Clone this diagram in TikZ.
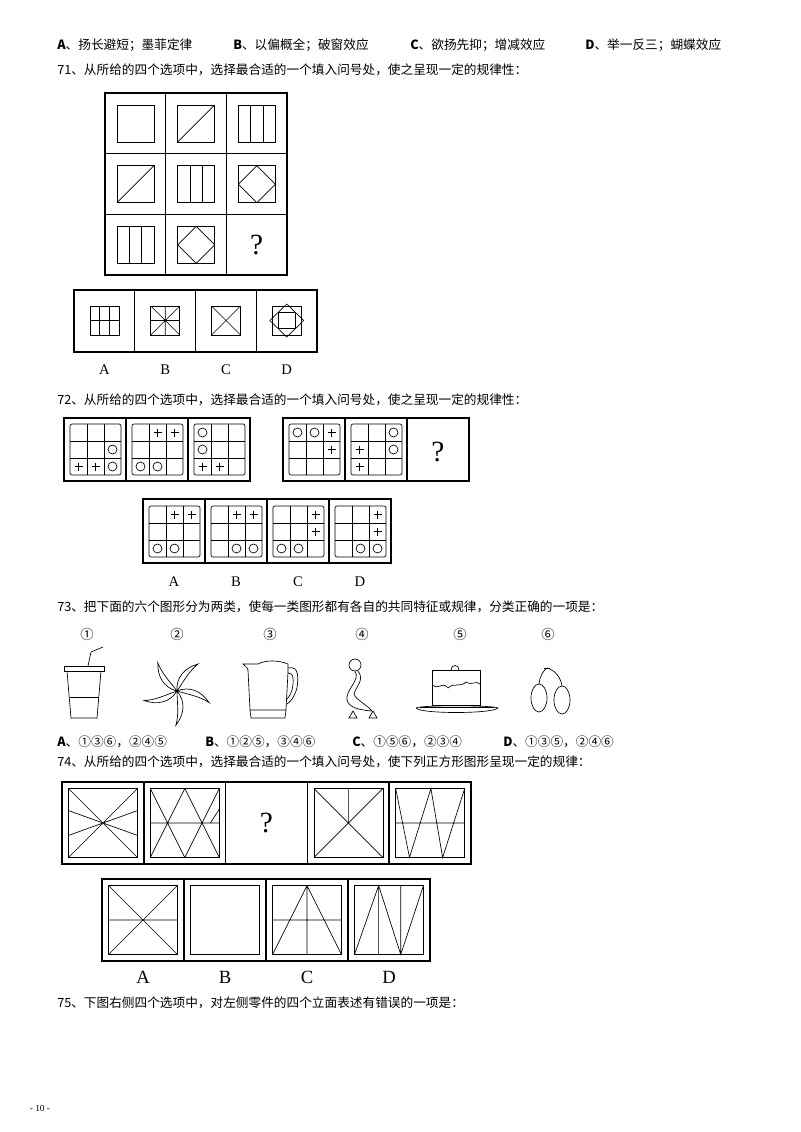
\documentclass[tikz,border=0pt]{standalone}
\usepackage{fontspec}
\setmainfont{Liberation Serif}
\newfontfamily\cjk{Noto Sans CJK SC}
\begin{document}
\begin{tikzpicture}[x=0.75pt,y=-0.75pt,
  fr/.style={draw,line width=1.1pt},
  th/.style={draw,line width=0.5pt},
  txt/.style={anchor=west,inner sep=0,font=\cjk\fontsize{9.5}{11}\selectfont},
  lab/.style={inner sep=0,font=\fontsize{11}{12}\selectfont},
  qm/.style={inner sep=0,font=\fontsize{22}{24}\selectfont}]
\useasboundingbox[fill=white] (0,0) rectangle (800,1132);
% ---------- text lines
\node[txt] (t0a) at (57,45) {\textbf{A}、扬长避短；墨菲定律};
\node[txt] (t0b) at (233,45) {\textbf{B}、以偏概全；破窗效应};
\node[txt] (t0c) at (410,45) {\textbf{C}、欲扬先抑；增减效应};
\node[txt] (t0d) at (585,45) {\textbf{D}、举一反三；蝴蝶效应};
\node[txt] (t71) at (57,70) {71、从所给的四个选项中，选择最合适的一个填入问号处，使之呈现一定的规律性：};
\node[txt] (t72) at (57,400) {72、从所给的四个选项中，选择最合适的一个填入问号处，使之呈现一定的规律性：};
\node[txt] (t73) at (57,607) {73、把下面的六个图形分为两类，使每一类图形都有各自的共同特征或规律，分类正确的一项是：};
\node[txt] (a73a) at (57,742) {\textbf{A}、①③⑥，②④⑤};
\node[txt] (a73b) at (205,742) {\textbf{B}、①②⑤，③④⑥};
\node[txt] (a73c) at (352,742) {\textbf{C}、①⑤⑥，②③④};
\node[txt] (a73d) at (503,742) {\textbf{D}、①③⑤，②④⑥};
\node[txt] (t74) at (57,762) {74、从所给的四个选项中，选择最合适的一个填入问号处，使下列正方形图形呈现一定的规律：};
\node[txt] (t75) at (57,1003) {75、下图右侧四个选项中，对左侧零件的四个立面表述有错误的一项是：};
\node[inner sep=0,font=\fontsize{7}{8}\selectfont] (pg) at (40,1108) {- 10 -};
% ---------- Q71
\foreach \r in {0,1,2}{\foreach \c in {0,1,2}{
  \draw[fr] ({105+60.7*\c},{93+60.7*\r}) rectangle +(60.7,60.7);}}
\newcommand\isq[2]{\draw[th] ({105+60.7*#2+12},{93+60.7*#1+12}) rectangle +(37,37);}
\newcommand\idiag[2]{\isq{#1}{#2}\draw[th] ({105+60.7*#2+12},{93+60.7*#1+49}) -- +(37,-37);}
\newcommand\ivert[2]{\isq{#1}{#2}\foreach \k in {1,2}{\draw[th] ({105+60.7*#2+12+37*\k/3},{93+60.7*#1+12}) -- +(0,37);}}
\newcommand\idiam[2]{\isq{#1}{#2}\draw[th] ({105+60.7*#2+30.5},{93+60.7*#1+12}) -- +(18.5,18.5) -- +(0,37) -- +(-18.5,18.5) -- cycle;}
\isq00 \idiag01 \ivert02
\idiag10 \ivert11 \idiam12
\ivert20 \idiam21
\node[qm] (q71) at ({105+60.7*2.5},{93+60.7*2.5}) {?};
\foreach \c in {0,1,2,3}{\draw[fr] ({74+60.75*\c},290) rectangle +(60.75,62);
  \draw[th] ({74+60.75*\c+16},306) rectangle +(29,29);}
\foreach \k in {1,2}{\draw[th] ({74+16+29*\k/3},306) -- +(0,29);}
\draw[th] (90,320.5) -- +(29,0);
\draw[th] (150.75,306) -- +(29,29) (150.75,335) -- +(29,-29) (165.25,306) -- +(0,29) (150.75,320.5) -- +(29,0);
\draw[th] (211.5,306) -- +(29,29) (211.5,335) -- +(29,-29);
\draw[th] (286.75,304) -- +(17,16.5) -- +(0,33) -- +(-17,16.5) -- cycle;
\draw[th] (278.25,312.25) rectangle +(17,16.5);
\foreach \l/\c in {A/0,B/1,C/2,D/3}{\node[lab] (l71\l) at ({74+60.75*\c+30.4},370) {\l};}
% ---------- Q72
\newcommand\qg[4]{% x y plus circle
  \draw[th,rounded corners=1.5pt] (#1,#2) rectangle +(51,51);
  \foreach \k in {1,2}{\draw[th] ({#1+17*\k},#2) -- +(0,51); \draw[th] (#1,{#2+17*\k}) -- +(51,0);}
  \foreach \r/\c in {#3}{\draw[th] ({#1+17*\c+8.5-4},{#2+17*\r+8.5}) -- +(8,0) ({#1+17*\c+8.5},{#2+17*\r+8.5-4}) -- +(0,8);}
  \foreach \r/\c in {#4}{\draw[th] ({#1+17*\c+8.5},{#2+17*\r+8.5}) circle (4.5);}}
\foreach \c in {0,1,2}{\draw[fr] ({64+62*\c},418) rectangle +(62,63);}
\foreach \c in {0,1,2}{\draw[fr] ({283+62*\c},418) rectangle +(62,63);}
\qg{70}{424}{2/0,2/1}{1/2,2/2}
\qg{132}{424}{0/1,0/2}{2/0,2/1}
\qg{194}{424}{2/0,2/1}{0/0,1/0}
\qg{289}{424}{0/2,1/2}{0/0,0/1}
\qg{351}{424}{1/0,2/0}{0/2,1/2}
\node[qm] (q72) at (438,452) {?};
\foreach \c in {0,1,2,3}{\draw[fr] ({143+62*\c},499) rectangle +(62,64);}
\qg{149}{506}{0/1,0/2}{2/0,2/1}
\qg{211}{506}{0/1,0/2}{2/1,2/2}
\qg{273}{506}{0/2,1/2}{2/0,2/1}
\qg{335}{506}{0/2,1/2}{2/1,2/2}
\foreach \l/\c in {A/0,B/1,C/2,D/3}{\node[lab] (l72\l) at ({143+62*\c+31},582) {\l};}
% ---------- Q73
\foreach \n/\x in {①/87,②/177,③/270,④/362,⑤/460,⑥/548}{\node[inner sep=0,font=\cjk\fontsize{10}{11}\selectfont] at (\x,634) {\n};}
% cup
\draw[th] (64,666) rectangle (104,671);
\draw[th] (67,671) -- (71,718) -- (97,718) -- (101,671);
\draw[th] (69.5,697) -- (98.5,697);
\draw[th] (88,666) -- (91,652) -- (103,647);
% pinwheel
\foreach \a in {0,72,144,216,288}{
 \draw[th,rotate around={\a:(177,691)}] (177,691) .. controls (176,678) and (184,668) .. (198,664) .. controls (189,671) and (184,681) .. cycle;}
% pitcher
\draw[th] (248,670) -- (250,710) -- (286,710) -- (288,672);
\draw[th] (250,710) -- (251,718) -- (285,718) -- (286,710);
\draw[th] (248,670) .. controls (247,666) and (244,666) .. (243,664) -- (258,664) .. controls (265,660) and (279,660) .. (288,664) -- (288,672);
\draw[th] (288,668) .. controls (300,665) and (298,680) .. (297,688) .. controls (294,698) and (290,702) .. (287,704);
\draw[th] (288,673) .. controls (294,672) and (294,682) .. (292,690) .. controls (290,696) and (288,698) .. (287,699);
% figure 4
\draw[th] (355,665) circle (6);
\draw[th] (355,671) .. controls (361,680) and (345,690) .. (347,700) .. controls (349,708) and (360,710) .. (372,711) .. controls (366,704) and (356,700) .. (354,694) .. controls (356,686) and (365,680) .. (358,671);
\draw[th] (349,718) -- (353,711) -- (357,718) -- cycle;
\draw[th] (369,718) -- (373,711) -- (377,718) -- cycle;
% cake
\draw[th] (432,705) rectangle (480,670);
\draw[th] (432,684) .. controls (438,692) and (442,680) .. (448,688) .. controls (454,682) and (460,688) .. (466,682) .. controls (472,686) and (476,680) .. (480,684);
\draw[th] (451,670) .. controls (451,664) and (459,664) .. (459,670);
\draw[th] (416,708) .. controls (420,705) and (492,705) .. (498,708) .. controls (492,714) and (420,714) .. (416,708);
\draw[th] (420,707) -- (494,707);
% cherries
\draw[th] (539,698) ellipse (8 and 14);
\draw[th] (562,700) ellipse (8 and 14);
\draw[th] (539,684) .. controls (540,676) and (543,671) .. (547,668) .. controls (555,670) and (561,678) .. (562,686);
\draw[th] (544,668) -- (550,668);
% ---------- Q74
\newcommand\fbo[2]{\draw[fr] (#1,#2) rectangle +(81.8,82);}
\newcommand\fb[2]{\fbo{#1}{#2}\draw[th] ({#1+6.5},{#2+6.5}) rectangle +(69,69);}
\fb{62}{782}\fb{143.8}{782}\fbo{225.6}{782}\fb{307.4}{782}\fb{389.2}{782}
\foreach \c in {0,...,3}{\fb{102+82*\c}{879}}
\newcommand\inr[2]{\begin{scope}[shift={(#1+6.5,#2+6.5)},scale=69]}
\inr{62}{782}
 \draw[th] (0,0)--(1,1) (0,1)--(1,0) (0,0.32)--(1,0.68) (0,0.68)--(1,0.32);
\end{scope}
\inr{143.8}{782}
 \draw[th] (0,0.5)--(1,0.5) (0,0)--(0.5,1)--(1,0) (0,1)--(0.5,0)--(1,1) (1,0.3)--(0.87,0.5);
\end{scope}
\node[qm] (q74) at ({62+81.8*2.5},823) {?};
\inr{307.4}{782}
 \draw[th] (0,0)--(1,1) (0,1)--(1,0) (0.5,0)--(0.5,0.5);
\end{scope}
\inr{389.2}{782}
 \draw[th] (0,0.5)--(1,0.5) (0,0)--(0.2,1)--(0.51,0)--(0.68,1)--(1,0);
\end{scope}
\inr{102}{879}
 \draw[th] (0,0)--(1,1) (0,1)--(1,0) (0,0.5)--(1,0.5);
\end{scope}
\inr{266}{879}
 \draw[th] (0,1)--(0.5,0)--(1,1) (0,0.5)--(1,0.5) (0.5,0)--(0.5,1);
\end{scope}
\inr{348}{879}
 \draw[th] (0,1)--(0.35,0)--(0.67,1)--(1,0) (0.35,0)--(0.35,1) (0.67,0)--(0.67,1);
\end{scope}
\foreach \l/\c in {A/0,B/1,C/2,D/3}{\node[lab,font=\fontsize{14}{15}\selectfont] (l74\l) at ({102+82*\c+41},977) {\l};}
\end{tikzpicture}
\end{document}
